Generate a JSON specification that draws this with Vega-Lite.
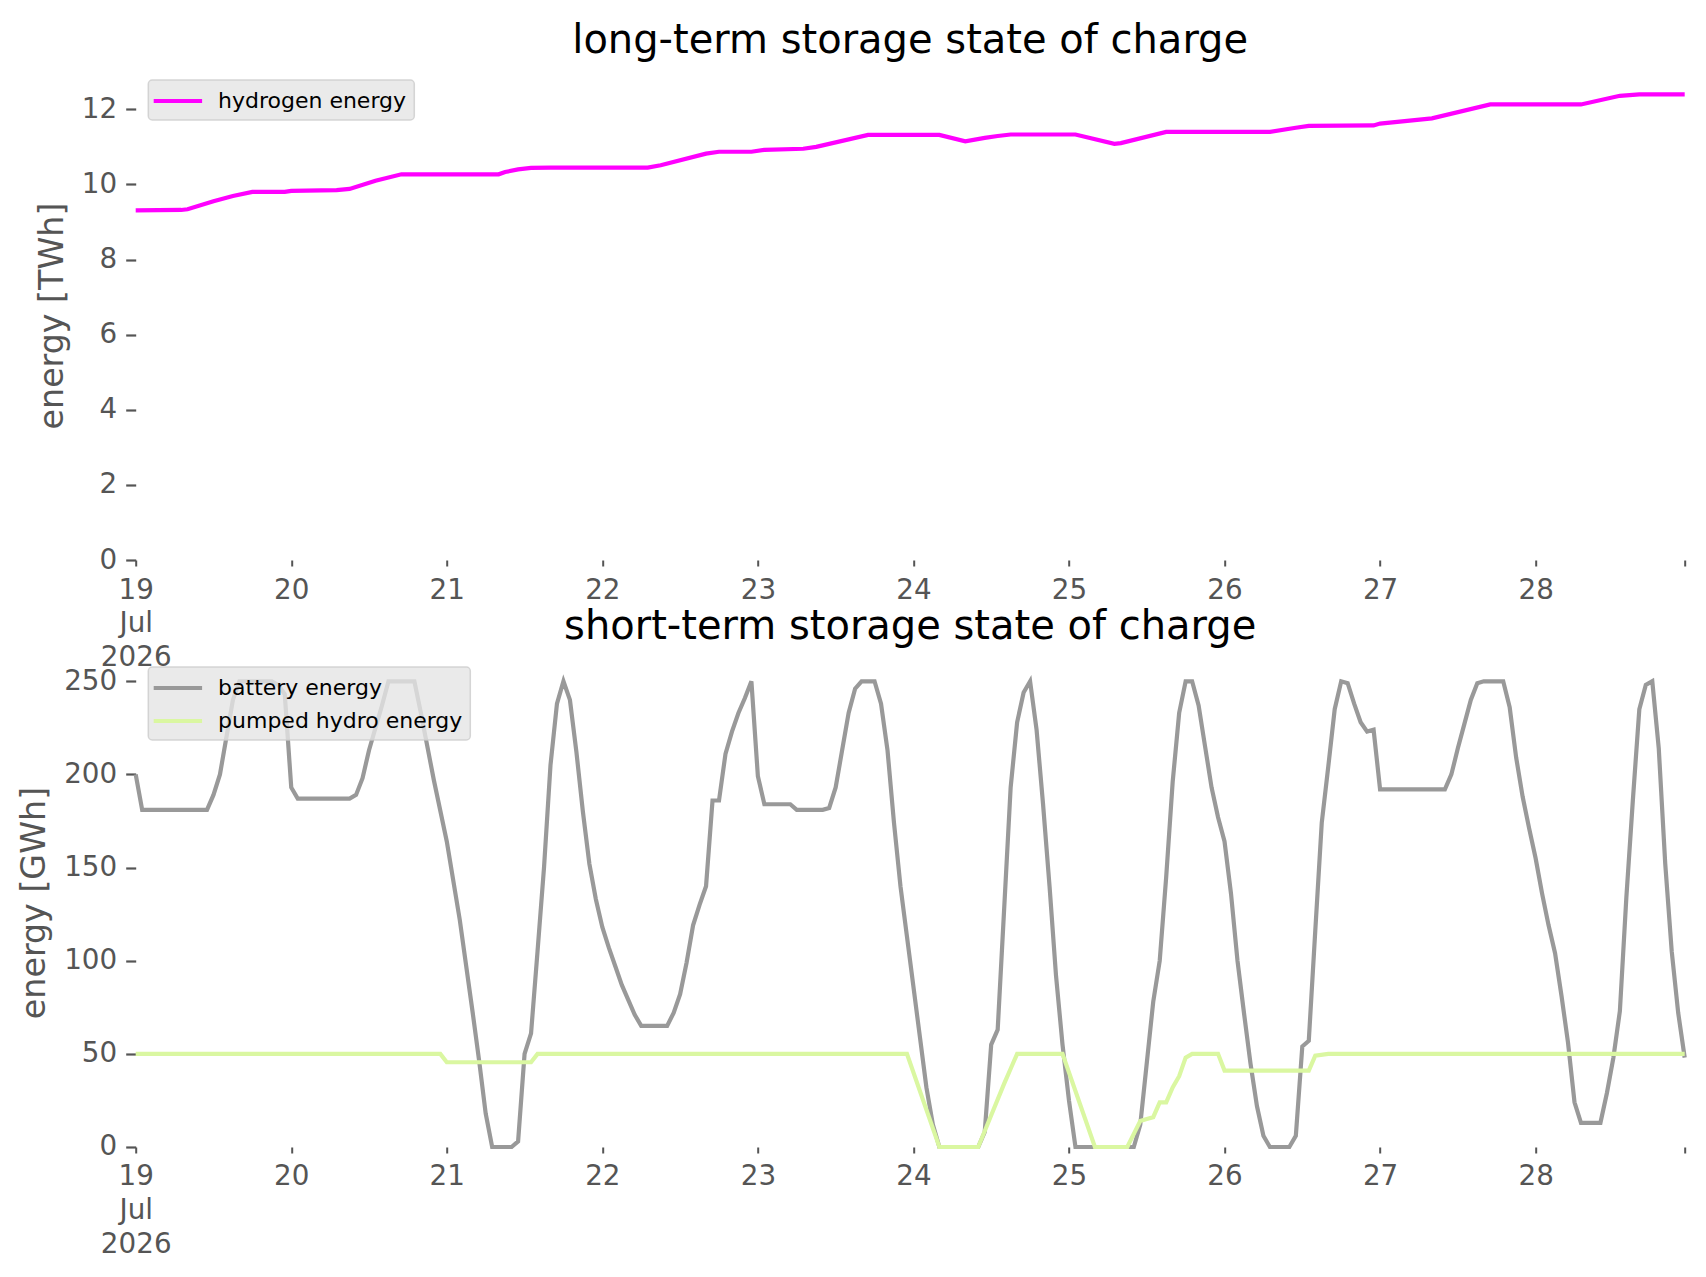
{
  "$schema": "https://vega.github.io/schema/vega-lite/v6.json",
  "background": "white",
  "autosize": {"type": "pad"},
  "padding": {"left": 16.7, "top": 20, "right": 5, "bottom": 5},
  "config": {
    "view": {"stroke": null},
    "font": "DejaVu Sans",
    "axis": {
      "labelFont": "DejaVu Sans",
      "titleFont": "DejaVu Sans",
      "labelColor": "#555555",
      "titleColor": "#555555",
      "tickColor": "#555555",
      "domain": false,
      "grid": false,
      "labelFontSize": 27.8,
      "titleFontSize": 33.3,
      "titleFontWeight": "normal"
    },
    "axisX": {
      "title": null,
      "tickSize": 6,
      "tickWidth": 2,
      "labelPadding": 10,
      "labelLineHeight": 34,
      "labelAlign": "center",
      "labelBaseline": "top",
      "labelFlush": false,
      "labelOverlap": false,
      "labelBound": false,
      "labelExpr": "hours(datum.value) != 0 ? '' : (date(datum.value) == 19 ? ['19', 'Jul', '2026'] : '' + date(datum.value))"
    },
    "axisY": {
      "tickSize": 10,
      "tickWidth": 2.2,
      "labelPadding": 9,
      "titlePadding": 12
    },
    "legend": {
      "title": null,
      "orient": "none",
      "legendX": 12.6,
      "legendY": 9,
      "symbolType": "M-2.2,0H2.2",
      "symbolSize": 484,
      "symbolStrokeWidth": 4.2,
      "labelFont": "DejaVu Sans",
      "labelFontSize": 22,
      "labelColor": "black",
      "labelLimit": 0,
      "fillColor": "rgba(229,229,229,0.8)",
      "strokeColor": "rgba(204,204,204,0.8)",
      "strokeWidth": 1.5,
      "cornerRadius": 4,
      "padding": 7.5,
      "symbolOffset": 8.6,
      "labelOffset": 26.7,
      "rowPadding": 8
    },
    "title": {
      "font": "DejaVu Sans",
      "fontSize": 40,
      "fontWeight": "normal",
      "color": "black",
      "anchor": "middle",
      "frame": "group",
      "baseline": "alphabetic",
      "offset": 10.5
    }
  },
  "datasets": {
    "longterm": [
      {"t": "2026-07-19T00:00", "s": "hydrogen energy", "v": 9.31},
      {"t": "2026-07-19T07:00", "s": "hydrogen energy", "v": 9.32},
      {"t": "2026-07-19T08:00", "s": "hydrogen energy", "v": 9.34},
      {"t": "2026-07-19T12:00", "s": "hydrogen energy", "v": 9.55},
      {"t": "2026-07-19T15:00", "s": "hydrogen energy", "v": 9.69},
      {"t": "2026-07-19T18:00", "s": "hydrogen energy", "v": 9.8},
      {"t": "2026-07-19T23:00", "s": "hydrogen energy", "v": 9.8},
      {"t": "2026-07-20T00:00", "s": "hydrogen energy", "v": 9.83},
      {"t": "2026-07-20T07:00", "s": "hydrogen energy", "v": 9.85},
      {"t": "2026-07-20T09:00", "s": "hydrogen energy", "v": 9.88},
      {"t": "2026-07-20T13:00", "s": "hydrogen energy", "v": 10.1},
      {"t": "2026-07-20T17:00", "s": "hydrogen energy", "v": 10.27},
      {"t": "2026-07-21T08:00", "s": "hydrogen energy", "v": 10.27},
      {"t": "2026-07-21T09:00", "s": "hydrogen energy", "v": 10.33},
      {"t": "2026-07-21T11:00", "s": "hydrogen energy", "v": 10.4},
      {"t": "2026-07-21T13:00", "s": "hydrogen energy", "v": 10.44},
      {"t": "2026-07-21T16:00", "s": "hydrogen energy", "v": 10.45},
      {"t": "2026-07-22T07:00", "s": "hydrogen energy", "v": 10.45},
      {"t": "2026-07-22T09:00", "s": "hydrogen energy", "v": 10.51},
      {"t": "2026-07-22T16:00", "s": "hydrogen energy", "v": 10.82},
      {"t": "2026-07-22T18:00", "s": "hydrogen energy", "v": 10.87},
      {"t": "2026-07-22T23:00", "s": "hydrogen energy", "v": 10.87},
      {"t": "2026-07-23T01:00", "s": "hydrogen energy", "v": 10.92},
      {"t": "2026-07-23T07:00", "s": "hydrogen energy", "v": 10.95},
      {"t": "2026-07-23T09:00", "s": "hydrogen energy", "v": 11.0},
      {"t": "2026-07-23T17:00", "s": "hydrogen energy", "v": 11.32},
      {"t": "2026-07-24T04:00", "s": "hydrogen energy", "v": 11.32},
      {"t": "2026-07-24T08:00", "s": "hydrogen energy", "v": 11.15},
      {"t": "2026-07-24T11:00", "s": "hydrogen energy", "v": 11.24},
      {"t": "2026-07-24T13:00", "s": "hydrogen energy", "v": 11.29},
      {"t": "2026-07-24T15:00", "s": "hydrogen energy", "v": 11.33},
      {"t": "2026-07-25T01:00", "s": "hydrogen energy", "v": 11.33},
      {"t": "2026-07-25T07:00", "s": "hydrogen energy", "v": 11.08},
      {"t": "2026-07-25T08:00", "s": "hydrogen energy", "v": 11.1},
      {"t": "2026-07-25T15:00", "s": "hydrogen energy", "v": 11.4},
      {"t": "2026-07-26T07:00", "s": "hydrogen energy", "v": 11.4},
      {"t": "2026-07-26T11:00", "s": "hydrogen energy", "v": 11.51},
      {"t": "2026-07-26T13:00", "s": "hydrogen energy", "v": 11.56},
      {"t": "2026-07-26T23:00", "s": "hydrogen energy", "v": 11.57},
      {"t": "2026-07-27T00:00", "s": "hydrogen energy", "v": 11.62},
      {"t": "2026-07-27T08:00", "s": "hydrogen energy", "v": 11.76},
      {"t": "2026-07-27T17:00", "s": "hydrogen energy", "v": 12.13},
      {"t": "2026-07-28T07:00", "s": "hydrogen energy", "v": 12.13},
      {"t": "2026-07-28T13:00", "s": "hydrogen energy", "v": 12.36},
      {"t": "2026-07-28T16:00", "s": "hydrogen energy", "v": 12.4},
      {"t": "2026-07-28T23:00", "s": "hydrogen energy", "v": 12.4}
    ],
    "shortterm": [
      {"t": "2026-07-19T00:00", "s": "battery energy", "v": 200},
      {"t": "2026-07-19T01:00", "s": "battery energy", "v": 181},
      {"t": "2026-07-19T11:00", "s": "battery energy", "v": 181},
      {"t": "2026-07-19T12:00", "s": "battery energy", "v": 189},
      {"t": "2026-07-19T13:00", "s": "battery energy", "v": 200},
      {"t": "2026-07-19T14:00", "s": "battery energy", "v": 220},
      {"t": "2026-07-19T15:00", "s": "battery energy", "v": 240},
      {"t": "2026-07-19T16:00", "s": "battery energy", "v": 250},
      {"t": "2026-07-19T21:00", "s": "battery energy", "v": 250},
      {"t": "2026-07-19T22:00", "s": "battery energy", "v": 248},
      {"t": "2026-07-19T23:00", "s": "battery energy", "v": 243},
      {"t": "2026-07-20T00:00", "s": "battery energy", "v": 193},
      {"t": "2026-07-20T01:00", "s": "battery energy", "v": 187},
      {"t": "2026-07-20T09:00", "s": "battery energy", "v": 187},
      {"t": "2026-07-20T10:00", "s": "battery energy", "v": 189},
      {"t": "2026-07-20T11:00", "s": "battery energy", "v": 198},
      {"t": "2026-07-20T12:00", "s": "battery energy", "v": 213},
      {"t": "2026-07-20T14:00", "s": "battery energy", "v": 237},
      {"t": "2026-07-20T15:00", "s": "battery energy", "v": 250},
      {"t": "2026-07-20T19:00", "s": "battery energy", "v": 250},
      {"t": "2026-07-20T20:00", "s": "battery energy", "v": 233},
      {"t": "2026-07-20T22:00", "s": "battery energy", "v": 197},
      {"t": "2026-07-21T00:00", "s": "battery energy", "v": 164},
      {"t": "2026-07-21T02:00", "s": "battery energy", "v": 122},
      {"t": "2026-07-21T04:00", "s": "battery energy", "v": 72},
      {"t": "2026-07-21T05:00", "s": "battery energy", "v": 46},
      {"t": "2026-07-21T06:00", "s": "battery energy", "v": 18},
      {"t": "2026-07-21T07:00", "s": "battery energy", "v": 0},
      {"t": "2026-07-21T10:00", "s": "battery energy", "v": 0},
      {"t": "2026-07-21T11:00", "s": "battery energy", "v": 3},
      {"t": "2026-07-21T12:00", "s": "battery energy", "v": 50},
      {"t": "2026-07-21T13:00", "s": "battery energy", "v": 61},
      {"t": "2026-07-21T14:00", "s": "battery energy", "v": 105},
      {"t": "2026-07-21T15:00", "s": "battery energy", "v": 150},
      {"t": "2026-07-21T16:00", "s": "battery energy", "v": 205},
      {"t": "2026-07-21T17:00", "s": "battery energy", "v": 238},
      {"t": "2026-07-21T18:00", "s": "battery energy", "v": 250},
      {"t": "2026-07-21T19:00", "s": "battery energy", "v": 240},
      {"t": "2026-07-21T20:00", "s": "battery energy", "v": 212},
      {"t": "2026-07-21T21:00", "s": "battery energy", "v": 180},
      {"t": "2026-07-21T22:00", "s": "battery energy", "v": 152},
      {"t": "2026-07-21T23:00", "s": "battery energy", "v": 133},
      {"t": "2026-07-22T00:00", "s": "battery energy", "v": 118},
      {"t": "2026-07-22T01:00", "s": "battery energy", "v": 107},
      {"t": "2026-07-22T02:00", "s": "battery energy", "v": 97},
      {"t": "2026-07-22T03:00", "s": "battery energy", "v": 87},
      {"t": "2026-07-22T04:00", "s": "battery energy", "v": 79},
      {"t": "2026-07-22T05:00", "s": "battery energy", "v": 71},
      {"t": "2026-07-22T06:00", "s": "battery energy", "v": 65},
      {"t": "2026-07-22T10:00", "s": "battery energy", "v": 65},
      {"t": "2026-07-22T11:00", "s": "battery energy", "v": 72},
      {"t": "2026-07-22T12:00", "s": "battery energy", "v": 82},
      {"t": "2026-07-22T13:00", "s": "battery energy", "v": 99},
      {"t": "2026-07-22T14:00", "s": "battery energy", "v": 119},
      {"t": "2026-07-22T15:00", "s": "battery energy", "v": 130},
      {"t": "2026-07-22T16:00", "s": "battery energy", "v": 140},
      {"t": "2026-07-22T17:00", "s": "battery energy", "v": 186},
      {"t": "2026-07-22T18:00", "s": "battery energy", "v": 186},
      {"t": "2026-07-22T19:00", "s": "battery energy", "v": 211},
      {"t": "2026-07-22T20:00", "s": "battery energy", "v": 223},
      {"t": "2026-07-22T21:00", "s": "battery energy", "v": 233},
      {"t": "2026-07-22T22:00", "s": "battery energy", "v": 241},
      {"t": "2026-07-22T23:00", "s": "battery energy", "v": 250},
      {"t": "2026-07-23T00:00", "s": "battery energy", "v": 199},
      {"t": "2026-07-23T01:00", "s": "battery energy", "v": 184},
      {"t": "2026-07-23T05:00", "s": "battery energy", "v": 184},
      {"t": "2026-07-23T06:00", "s": "battery energy", "v": 181},
      {"t": "2026-07-23T10:00", "s": "battery energy", "v": 181},
      {"t": "2026-07-23T11:00", "s": "battery energy", "v": 182},
      {"t": "2026-07-23T12:00", "s": "battery energy", "v": 193},
      {"t": "2026-07-23T13:00", "s": "battery energy", "v": 213},
      {"t": "2026-07-23T14:00", "s": "battery energy", "v": 233},
      {"t": "2026-07-23T15:00", "s": "battery energy", "v": 246},
      {"t": "2026-07-23T16:00", "s": "battery energy", "v": 250},
      {"t": "2026-07-23T18:00", "s": "battery energy", "v": 250},
      {"t": "2026-07-23T19:00", "s": "battery energy", "v": 238},
      {"t": "2026-07-23T20:00", "s": "battery energy", "v": 213},
      {"t": "2026-07-23T21:00", "s": "battery energy", "v": 174},
      {"t": "2026-07-23T22:00", "s": "battery energy", "v": 140},
      {"t": "2026-07-23T23:00", "s": "battery energy", "v": 113},
      {"t": "2026-07-24T00:00", "s": "battery energy", "v": 86},
      {"t": "2026-07-24T01:00", "s": "battery energy", "v": 59},
      {"t": "2026-07-24T02:00", "s": "battery energy", "v": 32},
      {"t": "2026-07-24T03:00", "s": "battery energy", "v": 12},
      {"t": "2026-07-24T04:00", "s": "battery energy", "v": 0},
      {"t": "2026-07-24T10:00", "s": "battery energy", "v": 0},
      {"t": "2026-07-24T11:00", "s": "battery energy", "v": 8},
      {"t": "2026-07-24T12:00", "s": "battery energy", "v": 55},
      {"t": "2026-07-24T13:00", "s": "battery energy", "v": 63},
      {"t": "2026-07-24T14:00", "s": "battery energy", "v": 128},
      {"t": "2026-07-24T15:00", "s": "battery energy", "v": 193},
      {"t": "2026-07-24T16:00", "s": "battery energy", "v": 228},
      {"t": "2026-07-24T17:00", "s": "battery energy", "v": 244},
      {"t": "2026-07-24T18:00", "s": "battery energy", "v": 250},
      {"t": "2026-07-24T19:00", "s": "battery energy", "v": 224},
      {"t": "2026-07-24T20:00", "s": "battery energy", "v": 184},
      {"t": "2026-07-24T21:00", "s": "battery energy", "v": 140},
      {"t": "2026-07-24T22:00", "s": "battery energy", "v": 92},
      {"t": "2026-07-24T23:00", "s": "battery energy", "v": 55},
      {"t": "2026-07-25T00:00", "s": "battery energy", "v": 25},
      {"t": "2026-07-25T01:00", "s": "battery energy", "v": 0},
      {"t": "2026-07-25T10:00", "s": "battery energy", "v": 0},
      {"t": "2026-07-25T11:00", "s": "battery energy", "v": 12},
      {"t": "2026-07-25T12:00", "s": "battery energy", "v": 45},
      {"t": "2026-07-25T13:00", "s": "battery energy", "v": 78},
      {"t": "2026-07-25T14:00", "s": "battery energy", "v": 100},
      {"t": "2026-07-25T15:00", "s": "battery energy", "v": 145},
      {"t": "2026-07-25T16:00", "s": "battery energy", "v": 196},
      {"t": "2026-07-25T17:00", "s": "battery energy", "v": 233},
      {"t": "2026-07-25T18:00", "s": "battery energy", "v": 250},
      {"t": "2026-07-25T19:00", "s": "battery energy", "v": 250},
      {"t": "2026-07-25T20:00", "s": "battery energy", "v": 237},
      {"t": "2026-07-25T21:00", "s": "battery energy", "v": 215},
      {"t": "2026-07-25T22:00", "s": "battery energy", "v": 193},
      {"t": "2026-07-25T23:00", "s": "battery energy", "v": 177},
      {"t": "2026-07-26T00:00", "s": "battery energy", "v": 164},
      {"t": "2026-07-26T01:00", "s": "battery energy", "v": 136},
      {"t": "2026-07-26T02:00", "s": "battery energy", "v": 100},
      {"t": "2026-07-26T03:00", "s": "battery energy", "v": 72},
      {"t": "2026-07-26T04:00", "s": "battery energy", "v": 45},
      {"t": "2026-07-26T05:00", "s": "battery energy", "v": 22},
      {"t": "2026-07-26T06:00", "s": "battery energy", "v": 6},
      {"t": "2026-07-26T07:00", "s": "battery energy", "v": 0},
      {"t": "2026-07-26T10:00", "s": "battery energy", "v": 0},
      {"t": "2026-07-26T11:00", "s": "battery energy", "v": 6},
      {"t": "2026-07-26T12:00", "s": "battery energy", "v": 54},
      {"t": "2026-07-26T13:00", "s": "battery energy", "v": 57},
      {"t": "2026-07-26T14:00", "s": "battery energy", "v": 116},
      {"t": "2026-07-26T15:00", "s": "battery energy", "v": 174},
      {"t": "2026-07-26T16:00", "s": "battery energy", "v": 204},
      {"t": "2026-07-26T17:00", "s": "battery energy", "v": 235},
      {"t": "2026-07-26T18:00", "s": "battery energy", "v": 250},
      {"t": "2026-07-26T19:00", "s": "battery energy", "v": 249},
      {"t": "2026-07-26T20:00", "s": "battery energy", "v": 238},
      {"t": "2026-07-26T21:00", "s": "battery energy", "v": 228},
      {"t": "2026-07-26T22:00", "s": "battery energy", "v": 223},
      {"t": "2026-07-26T23:00", "s": "battery energy", "v": 224},
      {"t": "2026-07-27T00:00", "s": "battery energy", "v": 192},
      {"t": "2026-07-27T10:00", "s": "battery energy", "v": 192},
      {"t": "2026-07-27T11:00", "s": "battery energy", "v": 200},
      {"t": "2026-07-27T12:00", "s": "battery energy", "v": 214},
      {"t": "2026-07-27T13:00", "s": "battery energy", "v": 227},
      {"t": "2026-07-27T14:00", "s": "battery energy", "v": 240},
      {"t": "2026-07-27T15:00", "s": "battery energy", "v": 249},
      {"t": "2026-07-27T16:00", "s": "battery energy", "v": 250},
      {"t": "2026-07-27T19:00", "s": "battery energy", "v": 250},
      {"t": "2026-07-27T20:00", "s": "battery energy", "v": 236},
      {"t": "2026-07-27T21:00", "s": "battery energy", "v": 209},
      {"t": "2026-07-27T22:00", "s": "battery energy", "v": 188},
      {"t": "2026-07-27T23:00", "s": "battery energy", "v": 171},
      {"t": "2026-07-28T00:00", "s": "battery energy", "v": 155},
      {"t": "2026-07-28T01:00", "s": "battery energy", "v": 136},
      {"t": "2026-07-28T02:00", "s": "battery energy", "v": 119},
      {"t": "2026-07-28T03:00", "s": "battery energy", "v": 104},
      {"t": "2026-07-28T04:00", "s": "battery energy", "v": 81},
      {"t": "2026-07-28T05:00", "s": "battery energy", "v": 56},
      {"t": "2026-07-28T06:00", "s": "battery energy", "v": 24},
      {"t": "2026-07-28T07:00", "s": "battery energy", "v": 13},
      {"t": "2026-07-28T10:00", "s": "battery energy", "v": 13},
      {"t": "2026-07-28T11:00", "s": "battery energy", "v": 29},
      {"t": "2026-07-28T12:00", "s": "battery energy", "v": 48},
      {"t": "2026-07-28T13:00", "s": "battery energy", "v": 73},
      {"t": "2026-07-28T14:00", "s": "battery energy", "v": 134},
      {"t": "2026-07-28T15:00", "s": "battery energy", "v": 186},
      {"t": "2026-07-28T16:00", "s": "battery energy", "v": 235},
      {"t": "2026-07-28T17:00", "s": "battery energy", "v": 248},
      {"t": "2026-07-28T18:00", "s": "battery energy", "v": 250},
      {"t": "2026-07-28T19:00", "s": "battery energy", "v": 214},
      {"t": "2026-07-28T20:00", "s": "battery energy", "v": 152},
      {"t": "2026-07-28T21:00", "s": "battery energy", "v": 105},
      {"t": "2026-07-28T22:00", "s": "battery energy", "v": 72},
      {"t": "2026-07-28T23:00", "s": "battery energy", "v": 48},
      {"t": "2026-07-19T00:00", "s": "pumped hydro energy", "v": 50},
      {"t": "2026-07-20T23:00", "s": "pumped hydro energy", "v": 50},
      {"t": "2026-07-21T00:00", "s": "pumped hydro energy", "v": 45.5},
      {"t": "2026-07-21T13:00", "s": "pumped hydro energy", "v": 45.5},
      {"t": "2026-07-21T14:00", "s": "pumped hydro energy", "v": 50},
      {"t": "2026-07-23T23:00", "s": "pumped hydro energy", "v": 50},
      {"t": "2026-07-24T04:00", "s": "pumped hydro energy", "v": 0},
      {"t": "2026-07-24T10:00", "s": "pumped hydro energy", "v": 0},
      {"t": "2026-07-24T12:00", "s": "pumped hydro energy", "v": 17},
      {"t": "2026-07-24T14:00", "s": "pumped hydro energy", "v": 34},
      {"t": "2026-07-24T15:00", "s": "pumped hydro energy", "v": 42},
      {"t": "2026-07-24T16:00", "s": "pumped hydro energy", "v": 50},
      {"t": "2026-07-24T23:00", "s": "pumped hydro energy", "v": 50},
      {"t": "2026-07-25T04:00", "s": "pumped hydro energy", "v": 0},
      {"t": "2026-07-25T09:00", "s": "pumped hydro energy", "v": 0},
      {"t": "2026-07-25T11:00", "s": "pumped hydro energy", "v": 14},
      {"t": "2026-07-25T12:00", "s": "pumped hydro energy", "v": 15},
      {"t": "2026-07-25T13:00", "s": "pumped hydro energy", "v": 16},
      {"t": "2026-07-25T14:00", "s": "pumped hydro energy", "v": 24},
      {"t": "2026-07-25T15:00", "s": "pumped hydro energy", "v": 24},
      {"t": "2026-07-25T16:00", "s": "pumped hydro energy", "v": 32},
      {"t": "2026-07-25T17:00", "s": "pumped hydro energy", "v": 38},
      {"t": "2026-07-25T18:00", "s": "pumped hydro energy", "v": 48},
      {"t": "2026-07-25T19:00", "s": "pumped hydro energy", "v": 50},
      {"t": "2026-07-25T23:00", "s": "pumped hydro energy", "v": 50},
      {"t": "2026-07-26T00:00", "s": "pumped hydro energy", "v": 41},
      {"t": "2026-07-26T13:00", "s": "pumped hydro energy", "v": 41},
      {"t": "2026-07-26T14:00", "s": "pumped hydro energy", "v": 49},
      {"t": "2026-07-26T16:00", "s": "pumped hydro energy", "v": 50},
      {"t": "2026-07-28T23:00", "s": "pumped hydro energy", "v": 50}
    ]
  },
  "spacing": 98,
  "bounds": "flush",
  "resolve": {
    "scale": {"color": "independent", "y": "independent"},
    "legend": {"color": "independent"}
  },
  "vconcat": [
    {
      "width": 1549,
      "height": 489,
      "title": {"text": "long-term storage state of charge"},
      "data": {"name": "longterm"},
      "mark": {"type": "line", "strokeWidth": 4.2},
      "encoding": {
        "x": {
          "field": "t",
          "type": "temporal",
          "scale": {"domain": [{"year": 2026, "month": 7, "date": 19}, {"year": 2026, "month": 7, "date": 28, "hours": 23}]},
          "axis": {
            "values": [
              {"year": 2026, "month": 7, "date": 19},
              {"year": 2026, "month": 7, "date": 20},
              {"year": 2026, "month": 7, "date": 21},
              {"year": 2026, "month": 7, "date": 22},
              {"year": 2026, "month": 7, "date": 23},
              {"year": 2026, "month": 7, "date": 24},
              {"year": 2026, "month": 7, "date": 25},
              {"year": 2026, "month": 7, "date": 26},
              {"year": 2026, "month": 7, "date": 27},
              {"year": 2026, "month": 7, "date": 28},
              {"year": 2026, "month": 7, "date": 28, "hours": 23}
            ]
          }
        },
        "y": {
          "field": "v",
          "type": "quantitative",
          "scale": {"domain": [0, 13.02], "nice": false},
          "axis": {"title": "energy [TWh]", "values": [0, 2, 4, 6, 8, 10, 12]}
        },
        "color": {
          "field": "s",
          "type": "nominal",
          "scale": {"domain": ["hydrogen energy"], "range": ["#ff00ff"]}
        }
      }
    },
    {
      "width": 1549,
      "height": 489,
      "title": {"text": "short-term storage state of charge"},
      "data": {"name": "shortterm"},
      "mark": {"type": "line", "strokeWidth": 4.2},
      "encoding": {
        "x": {
          "field": "t",
          "type": "temporal",
          "scale": {"domain": [{"year": 2026, "month": 7, "date": 19}, {"year": 2026, "month": 7, "date": 28, "hours": 23}]},
          "axis": {
            "values": [
              {"year": 2026, "month": 7, "date": 19},
              {"year": 2026, "month": 7, "date": 20},
              {"year": 2026, "month": 7, "date": 21},
              {"year": 2026, "month": 7, "date": 22},
              {"year": 2026, "month": 7, "date": 23},
              {"year": 2026, "month": 7, "date": 24},
              {"year": 2026, "month": 7, "date": 25},
              {"year": 2026, "month": 7, "date": 26},
              {"year": 2026, "month": 7, "date": 27},
              {"year": 2026, "month": 7, "date": 28},
              {"year": 2026, "month": 7, "date": 28, "hours": 23}
            ]
          }
        },
        "y": {
          "field": "v",
          "type": "quantitative",
          "scale": {"domain": [0, 262.5], "nice": false},
          "axis": {"title": "energy [GWh]", "values": [0, 50, 100, 150, 200, 250]}
        },
        "color": {
          "field": "s",
          "type": "nominal",
          "scale": {"domain": ["battery energy", "pumped hydro energy"], "range": ["#999999", "#daf7a1"]}
        }
      }
    }
  ]
}
